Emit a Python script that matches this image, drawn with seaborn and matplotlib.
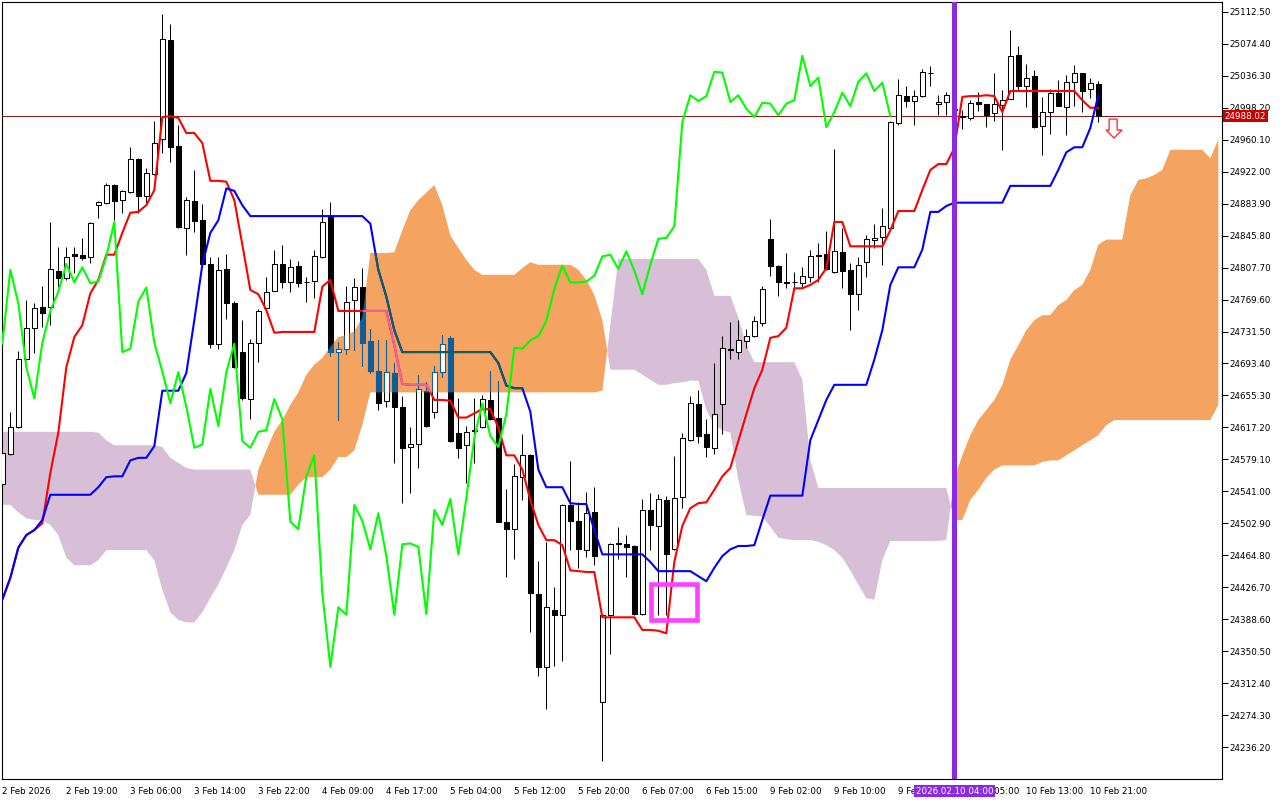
import matplotlib
matplotlib.use("Agg")
import matplotlib.pyplot as plt
import matplotlib.transforms as mtransforms
from matplotlib.patches import Rectangle, Polygon
import numpy as np
import pandas as pd
import seaborn as sns

# hourly candles, bar 0 = 2 Feb 2026 00:00, last bar = 10 Feb 22:00
open_ = [24550, 24586, 24618, 24699, 24736, 24761, 24761, 24804, 24795, 24824,
         24823, 24820, 24882, 24885, 24906, 24888, 24898, 24937, 24893, 24919,
         24961, 25079, 24952, 24855, 24887, 24864, 24812, 24717, 24806, 24765,
         24707, 24651, 24718, 24759, 24780, 24812, 24790, 24810, 24790, 24792,
         24820, 24869, 24707, 24711, 24769, 24784, 24720, 24684, 24649, 24682,
         24642, 24594, 24597, 24661, 24636, 24683, 24724, 24611, 24596, 24613,
         24618, 24650, 24628, 24505, 24496, 24558, 24584, 24419, 24332, 24400,
         24394, 24525, 24506, 24471, 24516, 24290, 24394, 24478, 24478, 24476,
         24395, 24519, 24500, 24531, 24472, 24534, 24602, 24645, 24609, 24593,
         24645, 24710, 24707, 24720, 24726, 24742, 24842, 24810, 24789, 24790,
         24789, 24796, 24822, 24824, 24802, 24826, 24805, 24776, 24814, 24840,
         24844, 24855, 24980, 25012, 25006, 25012, 25039, 25003, 25005, 24995,
         24988, 24986, 25005, 25003, 24992, 25001, 25008, 25061, 25024, 25036,
         24976, 24993, 25016, 24999, 25029, 25039, 25020, 25026]
high = [24602, 24636, 24708, 24769, 24765, 24786, 24862, 24832, 24832, 24832,
        24843, 24862, 24887, 24908, 24907, 24900, 24951, 24938, 24926, 24982,
        25110, 25098, 24977, 24892, 24924, 24883, 24820, 24820, 24824, 24768,
        24745, 24723, 24758, 24796, 24829, 24835, 24818, 24815, 24796, 24829,
        24877, 24886, 24719, 24786, 24795, 24807, 24734, 24721, 24721, 24694,
        24655, 24618, 24680, 24671, 24691, 24727, 24726, 24652, 24619, 24652,
        24656, 24684, 24672, 24544, 24574, 24609, 24585, 24458, 24481, 24427,
        24526, 24577, 24528, 24540, 24546, 24395, 24479, 24499, 24489, 24477,
        24532, 24539, 24538, 24535, 24583, 24611, 24655, 24662, 24627, 24694,
        24726, 24743, 24745, 24734, 24750, 24786, 24866, 24811, 24825, 24802,
        24808, 24829, 24837, 24851, 24949, 24855, 24813, 24820, 24847, 24860,
        24879, 24982, 25032, 25024, 25019, 25044, 25048, 25013, 25017, 25005,
        24995, 25007, 25017, 25003, 25039, 25019, 25091, 25072, 25050, 25043,
        25011, 25020, 25031, 25037, 25049, 25040, 25034, 25030]
low = [24543, 24584, 24617, 24698, 24706, 24737, 24739, 24784, 24793, 24801,
       24817, 24813, 24867, 24884, 24864, 24873, 24897, 24873, 24883, 24918,
       24944, 24933, 24855, 24823, 24850, 24811, 24712, 24711, 24746, 24688,
       24650, 24627, 24695, 24759, 24780, 24783, 24779, 24784, 24767, 24771,
       24819, 24702, 24626, 24705, 24709, 24690, 24682, 24638, 24641, 24575,
       24527, 24539, 24569, 24618, 24628, 24677, 24600, 24581, 24551, 24575,
       24617, 24626, 24504, 24439, 24460, 24531, 24373, 24321, 24282, 24333,
       24339, 24471, 24450, 24463, 24453, 24220, 24347, 24460, 24439, 24394,
       24394, 24471, 24394, 24394, 24471, 24521, 24601, 24599, 24582, 24586,
       24609, 24699, 24699, 24712, 24725, 24738, 24798, 24774, 24783, 24783,
       24783, 24790, 24790, 24805, 24801, 24783, 24733, 24757, 24796, 24831,
       24811, 24854, 24978, 24999, 24978, 25011, 25024, 24989, 24989, 24987,
       24973, 24983, 24994, 24975, 24982, 24948, 25008, 25019, 24999, 24974,
       24942, 24967, 25000, 24966, 25000, 24993, 25010, 24981]
close = [24587, 24618, 24699, 24736, 24759, 24753, 24806, 24795, 24820, 24821,
         24819, 24861, 24886, 24906, 24887, 24899, 24937, 24893, 24920, 24956,
         25080, 24951, 24856, 24888, 24863, 24812, 24717, 24805, 24765, 24689,
         24652, 24718, 24756, 24779, 24812, 24790, 24808, 24789, 24791, 24821,
         24862, 24707, 24711, 24767, 24784, 24718, 24684, 24646, 24683, 24642,
         24593, 24597, 24663, 24619, 24683, 24717, 24601, 24593, 24612, 24614,
         24651, 24627, 24505, 24496, 24559, 24584, 24420, 24332, 24403, 24394,
         24525, 24506, 24472, 24515, 24464, 24394, 24478, 24479, 24475, 24395,
         24519, 24501, 24532, 24466, 24533, 24605, 24646, 24607, 24594, 24633,
         24712, 24711, 24721, 24726, 24744, 24782, 24810, 24790, 24790, 24791,
         24798, 24821, 24823, 24806, 24827, 24804, 24776, 24811, 24842, 24843,
         24857, 24981, 25013, 25006, 25012, 25041, 25040, 25005, 25013, 24997,
         24987, 25004, 25003, 24989, 25003, 25007, 25060, 25024, 25034, 24975,
         24993, 25016, 25000, 25029, 25039, 25018, 25028, 24988.02]

tenkan = [24412, 24438, 24474, 24489, 24495, 24503, 24563, 24611, 24689, 24725,
          24739, 24777, 24793, 24823, 24823, 24849, 24873, 24874, 24882, 24900,
          24987, 24988, 24986, 24968, 24968, 24956, 24911, 24911, 24910, 24888,
          24835, 24781, 24776, 24757, 24730, 24731, 24731, 24731, 24731, 24731,
          24785, 24793, 24756, 24756, 24756, 24756, 24756, 24756, 24756, 24715,
          24669, 24668, 24668, 24668, 24650, 24650, 24649, 24629, 24629, 24634,
          24639, 24639, 24617, 24584, 24584, 24567, 24531, 24501, 24483, 24483,
          24477, 24447, 24446, 24445, 24445, 24391, 24391, 24391, 24391, 24391,
          24376, 24376, 24375, 24372, 24457, 24500, 24521, 24527, 24528, 24543,
          24559, 24569, 24601, 24633, 24664, 24686, 24724, 24726, 24736, 24783,
          24783, 24787, 24793, 24807, 24862, 24862, 24833, 24833, 24833, 24833,
          24833, 24852, 24875, 24875, 24875, 24900, 24924, 24931, 24931, 24950,
          25011, 25012, 25012, 25013, 25012, 24993, 25018, 25018, 25018, 25018,
          25018, 25018, 25018, 25018, 25018, 25007, 24998, 24998]
kijun = [24412, 24438, 24474, 24489, 24495, 24507, 24537, 24537, 24537, 24537,
         24537, 24537, 24546, 24558, 24559, 24559, 24578, 24581, 24581, 24595,
         24661, 24661, 24661, 24682, 24745, 24811, 24849, 24864, 24902, 24899,
         24882, 24869, 24869, 24869, 24869, 24869, 24869, 24869, 24869, 24869,
         24869, 24869, 24869, 24869, 24869, 24869, 24860, 24805, 24773, 24733,
         24707, 24707, 24707, 24707, 24707, 24707, 24707, 24707, 24707, 24707,
         24707, 24707, 24694, 24667, 24664, 24664, 24636, 24567, 24546, 24546,
         24546, 24527, 24526, 24526, 24495, 24466, 24466, 24466, 24466, 24466,
         24466, 24457, 24446, 24446, 24446, 24446, 24446, 24440, 24434, 24450,
         24464, 24472, 24476, 24476, 24477, 24507, 24536, 24536, 24536, 24536,
         24536, 24602, 24626, 24650, 24668, 24668, 24668, 24668, 24668, 24698,
         24733, 24787, 24808, 24808, 24808, 24829, 24874, 24874, 24881, 24885,
         24885, 24885, 24885, 24885, 24885, 24885, 24905, 24905, 24905, 24905,
         24905, 24905, 24924, 24945, 24951, 24951, 24974, 25013]

# senkou spans, already shifted 26 bars forward (bar 0 .. 152)
span_a = [24525, 24525, 24516, 24509, 24507, 24507, 24501, 24489, 24462, 24453,
          24453, 24453, 24459, 24471, 24471, 24471, 24471, 24471, 24471, 24459,
          24424, 24397, 24388, 24385, 24385, 24397, 24414, 24430, 24450, 24471,
          24501, 24513, 24567, 24590, 24612, 24626, 24644, 24659, 24680, 24692,
          24700, 24713, 24725, 24727, 24732, 24748, 24825, 24825, 24825, 24826,
          24852, 24876, 24888, 24897, 24906, 24882, 24846, 24831, 24817, 24805,
          24799, 24799, 24799, 24799, 24799, 24807, 24814, 24811, 24811, 24811,
          24811, 24811, 24805, 24793, 24775, 24745, 24686, 24686, 24686, 24686,
          24680, 24674, 24668, 24668, 24670, 24671, 24673, 24673, 24638, 24620,
          24614, 24611, 24555, 24513, 24512, 24511, 24499, 24486, 24484, 24483,
          24483, 24483, 24481, 24477, 24471, 24462, 24447, 24430, 24414, 24412,
          24459, 24482, 24482, 24482, 24482, 24482, 24482, 24482, 24483, 24557,
          24584, 24608, 24626, 24638, 24650, 24668, 24698, 24715, 24733, 24745,
          24751, 24751, 24763, 24769, 24781, 24787, 24805, 24835, 24841, 24841,
          24841, 24894, 24912, 24914, 24918, 24924, 24948, 24948, 24948, 24948,
          24948, 24938, 24960]
span_b = [24612, 24612, 24612, 24612, 24612, 24612, 24612, 24612, 24612, 24612,
          24612, 24612, 24611, 24602, 24596, 24596, 24596, 24596, 24596, 24596,
          24594, 24581, 24575, 24569, 24567, 24567, 24567, 24567, 24567, 24567,
          24567, 24567, 24537, 24537, 24537, 24537, 24537, 24549, 24558, 24558,
          24558, 24567, 24582, 24582, 24590, 24620, 24659, 24659, 24659, 24659,
          24659, 24659, 24659, 24659, 24659, 24659, 24659, 24659, 24659, 24659,
          24659, 24659, 24659, 24659, 24659, 24659, 24659, 24659, 24659, 24659,
          24659, 24659, 24659, 24659, 24659, 24661, 24739, 24818, 24818, 24818,
          24818, 24818, 24818, 24818, 24818, 24818, 24818, 24818, 24805, 24774,
          24774, 24774, 24748, 24715, 24695, 24695, 24695, 24695, 24695, 24695,
          24674, 24578, 24545, 24545, 24545, 24545, 24545, 24545, 24545, 24545,
          24545, 24545, 24545, 24545, 24545, 24545, 24545, 24545, 24545, 24507,
          24507, 24531, 24543, 24557, 24567, 24572, 24572, 24572, 24572, 24572,
          24576, 24578, 24578, 24584, 24590, 24596, 24602, 24608, 24620, 24626,
          24626, 24626, 24626, 24626, 24626, 24626, 24626, 24626, 24626, 24626,
          24626, 24626, 24644]
CHIKOU_SHIFT = 26

time_ticks = list(range(0, 137, 8))
time_labels = ["2 Feb 2026", "2 Feb 19:00", "3 Feb 06:00", "3 Feb 14:00", "3 Feb 22:00",
               "4 Feb 09:00", "4 Feb 17:00", "5 Feb 04:00", "5 Feb 12:00", "5 Feb 20:00",
               "6 Feb 07:00", "6 Feb 15:00", "9 Feb 02:00", "9 Feb 10:00", "9 Feb 18:00",
               "10 Feb 05:00", "10 Feb 13:00", "10 Feb 21:00"]
price_ticks = [25112.50, 25074.40, 25036.30, 24998.20, 24960.10, 24922.00, 24883.90,
               24845.80, 24807.70, 24769.60, 24731.50, 24693.40, 24655.30, 24617.20,
               24579.10, 24541.00, 24502.90, 24464.80, 24426.70, 24388.60, 24350.50,
               24312.40, 24274.30, 24236.20]
last_price = 24988.02
marker_bar = 119
marker_label = "2026.02.10 04:00"

ORANGE = "#F4A460"
THISTLE = "#D8BFD8"
INV_DARK = "#0F5E9C"   # black seen through the xor-ed cloud
INV_RED = "#F0609E"
INV_BLUE = "#0E5F60"

candles = pd.DataFrame({"open": open_, "high": high, "low": low, "close": close})
candles["bar"] = np.arange(len(candles))
cloud = pd.DataFrame({"span_a": span_a, "span_b": span_b})
cloud["bar"] = np.arange(len(cloud))


def draw_candles(ax, df, ink, zorder, clip=None):
    up = (df["close"] >= df["open"]).to_numpy()
    lo = np.minimum(df["open"], df["close"])
    hi = np.maximum(df["open"], df["close"])
    wicks = ax.vlines(df["bar"], df["low"], df["high"], colors=ink, lw=0.75, zorder=zorder)
    bodies = ax.bar(df["bar"], hi - lo, bottom=lo, width=0.56,
                    color=np.where(up, "white", ink), edgecolor=ink,
                    linewidth=0.75, zorder=zorder + 0.05)
    if clip is not None:
        wicks.set_clip_path(*clip)
        for patch in bodies.patches:
            patch.set_clip_path(*clip)


def draw_line(ax, x, y, color, zorder, clip=None):
    sns.lineplot(x=x, y=y, ax=ax, color=color, lw=1.5, zorder=zorder,
                 estimator=None, sort=False)
    line = ax.lines[-1]
    if clip is not None:
        line.set_clip_path(*clip)


sns.set_style("white")
plt.rcParams["font.family"] = ["DejaVu Sans"]

fig = plt.figure(figsize=(12.8, 8), dpi=100)
ax = fig.add_axes([2 / 1280, 21 / 800, 1220 / 1280, 776.7 / 800])
ax.set_xlim(-0.04, 152.46)
ax.set_ylim(24198.4, 25123.7)

a = cloud["span_a"].to_numpy()
b = cloud["span_b"].to_numpy()
ax.fill_between(cloud["bar"], a, b, where=a >= b, interpolate=True,
                color=ORANGE, lw=0, zorder=1)
ax.fill_between(cloud["bar"], a, b, where=a < b, interpolate=True,
                color=THISTLE, lw=0, zorder=1)

# part of the first orange cloud where the terminal inverts colours
part = cloud[(cloud["bar"] >= 31) & (cloud["bar"] <= 65)]
pa = part["span_a"].to_numpy()
pb = part["span_b"].to_numpy()
shade = ax.fill_between(part["bar"], pa, pb, where=pa >= pb, interpolate=True,
                        facecolor="none", edgecolor="none")
clip = (shade.get_paths()[0], ax.transData)
shade.remove()

ax.axhline(last_price, color="#8E1212", lw=0.7, zorder=2)

draw_candles(ax, candles, "black", 3)
draw_candles(ax, candles, INV_DARK, 3.5, clip)

bars = candles["bar"].to_numpy()
draw_line(ax, bars, tenkan, "#FF0000", 4)
draw_line(ax, bars, tenkan, INV_RED, 4.05, clip)
draw_line(ax, bars, kijun, "#0000FF", 4.1)
draw_line(ax, bars, kijun, INV_BLUE, 4.15, clip)
draw_line(ax, bars - CHIKOU_SHIFT, close, "#00FF00", 4.2)

ax.axvline(marker_bar, color="#8A2BE2", lw=3.6, zorder=6)

# highlighted zone and sell arrow drawn on the chart
ax.add_patch(Rectangle((81.08, 24387.8), 5.75, 42.9, fill=False,
                       edgecolor="#FF40FF", lw=3.3, zorder=7))
ax.add_patch(Polygon([(138.35, 24984.6), (139.35, 24984.6), (139.35, 24971.5),
                      (139.96, 24971.5), (138.96, 24962.0), (137.97, 24971.5),
                      (138.35, 24971.5)], closed=True, facecolor="white",
                     edgecolor="#FF3030", lw=1.0, zorder=7))

ax.set_xlabel("")
ax.set_ylabel("")
ax.yaxis.tick_right()
ax.set_yticks(price_ticks)
ax.set_yticklabels([f"{v:.2f}" for v in price_ticks])
ax.set_xticks(time_ticks)
ax.set_xticklabels(time_labels, ha="left")
ax.tick_params(axis="y", direction="out", length=4, width=0.75, pad=1.5,
               labelsize=6.3, colors="black")
ax.tick_params(axis="x", direction="out", length=4, width=0.75, pad=1.5,
               labelsize=6.3, colors="black")
for spine in ax.spines.values():
    spine.set_color("black")
    spine.set_linewidth(0.8)

ax.text(1.0022, last_price, f"{last_price:.2f}",
        transform=mtransforms.blended_transform_factory(ax.transAxes, ax.transData),
        ha="left", va="center", color="white", fontsize=6.3, zorder=10, clip_on=False,
        bbox=dict(boxstyle="square,pad=0.2", fc="#C80000", ec="none"))
ax.text(marker_bar, -0.0155, marker_label,
        transform=mtransforms.blended_transform_factory(ax.transData, ax.transAxes),
        ha="center", va="center", color="white", fontsize=6.3, zorder=10, clip_on=False,
        bbox=dict(boxstyle="square,pad=0.2", fc="#8A2BE2", ec="none"))

fig.savefig("out.png", dpi=100)
